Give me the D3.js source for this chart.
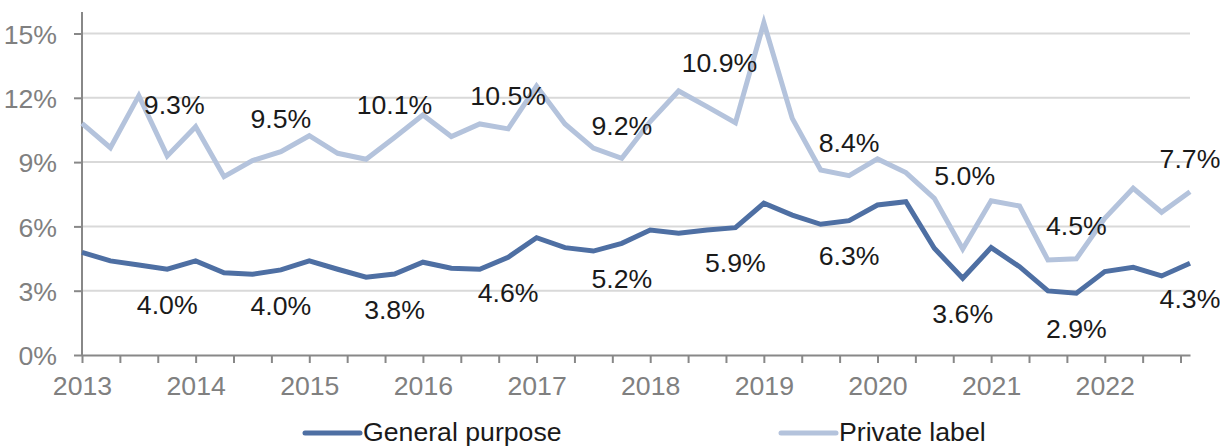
<!DOCTYPE html>
<html>
<head>
<meta charset="utf-8">
<script src="https://cdn.jsdelivr.net/npm/d3@7"></script>
<style>
  body { margin: 0; background: #fff; }
  svg text { font-family: "Liberation Sans", Arial, sans-serif; }
</style>
</head>
<body>
<div id="chart"></div>
<script>

// quarterly, 2013 Q1 .. 2022 Q4
const startYear = 2013;
const generalPurpose = [
    4.79, 4.39, 4.20, 4.00, 4.39, 3.84, 3.77, 3.97, 4.39, 4.00,
    3.63, 3.78, 4.33, 4.05, 4.00, 4.56, 5.47, 5.01, 4.85, 5.21,
    5.83, 5.68, 5.83, 5.94, 7.08, 6.53, 6.10, 6.27, 7.00, 7.15,
    4.98, 3.58, 5.01, 4.12, 2.99, 2.88, 3.89, 4.09, 3.69, 4.28
];
const privateLabel = [
    10.81, 9.67, 12.10, 9.29, 10.65, 8.32, 9.07, 9.49, 10.23, 9.41,
    9.13, 10.15, 11.20, 10.19, 10.78, 10.55, 12.55, 10.78, 9.65, 9.18,
    10.89, 12.32, 11.59, 10.84, 15.50, 11.04, 8.63, 8.37, 9.15, 8.51,
    7.31, 4.95, 7.20, 6.95, 4.43, 4.49, 6.38, 7.78, 6.66, 7.62
];

// annual figures shown as labels (at each year's Q4)
const years = [2013, 2014, 2015, 2016, 2017, 2018, 2019, 2020, 2021, 2022];
const generalAnnual = ['4.0%', '4.0%', '3.8%', '4.6%', '5.2%', '5.9%', '6.3%', '3.6%', '2.9%', '4.3%'];
const privateAnnual = ['9.3%', '9.5%', '10.1%', '10.5%', '9.2%', '10.9%', '8.4%', '5.0%', '4.5%', '7.7%'];

const yTicks = [0, 3, 6, 9, 12, 15];
const seriesNames = ['General purpose', 'Private label'];

const width = 1220, height = 446;
const darkBlue = '#4e6fa3', lightBlue = '#b4c3dc';
const fs = 26.67;

const svg = d3.select('#chart')
    .append('svg')
    .attr('width', width)
    .attr('height', height);

const x = d3.scaleLinear()
    .domain([startYear, startYear + 9.75])
    .range([82, 1190]);

const y = d3.scaleLinear()
    .domain([0, 15])
    .range([355, 33.5]);

// gridlines
svg.append('g')
    .selectAll('line')
    .data(yTicks.filter(d => d > 0))
    .join('line')
    .attr('x1', x.range()[0])
    .attr('x2', x.range()[1])
    .attr('y1', d => y(d))
    .attr('y2', d => y(d))
    .attr('stroke', '#d9d9d9')
    .attr('stroke-width', 2);

// y axis
const yAxis = svg.append('g')
    .attr('transform', `translate(${x.range()[0]},0)`)
    .call(d3.axisLeft(y).tickValues(yTicks).tickFormat(d => d + '%').tickSize(8).tickSizeOuter(0))
yAxis.select('.domain').remove();
yAxis.append('line')
    .attr('y1', 12).attr('y2', y(0))
    .attr('stroke', '#888').attr('stroke-width', 2);
yAxis.selectAll('.tick line').attr('stroke', '#888').attr('stroke-width', 2);
yAxis.selectAll('.tick text')
    .attr('fill', '#808080')
    .attr('font-size', fs)
    .attr('x', -25)
    .attr('dy', '0.36em');

// x axis: ticks every 4 months, labels at years
const xTickVals = d3.range(0, 30).map(k => startYear + k / 3);
const xAxis = svg.append('g')
    .attr('transform', `translate(0,${y(0)})`)
    .call(d3.axisBottom(x)
        .tickValues(xTickVals)
        .tickFormat(d => Math.abs(d - Math.round(d)) < 1e-6 ? d3.format('d')(Math.round(d)) : '')
        .tickSize(8)
        .tickSizeOuter(0));
xAxis.select('.domain').attr('stroke', '#888').attr('stroke-width', 2);
xAxis.selectAll('.tick line').attr('stroke', '#888').attr('stroke-width', 2);
xAxis.selectAll('.tick text')
    .attr('fill', '#808080')
    .attr('font-size', fs)
    .attr('y', 21)
    .attr('dy', '0.71em');

const line = d3.line()
    .x((d, i) => x(startYear + i / 4))
    .y(d => y(d));

svg.append('path')
    .datum(privateLabel)
    .attr('fill', 'none')
    .attr('stroke', lightBlue)
    .attr('stroke-width', 5)
    .attr('d', line);

svg.append('path')
    .datum(generalPurpose)
    .attr('fill', 'none')
    .attr('stroke', darkBlue)
    .attr('stroke-width', 5)
    .attr('d', line);

// data labels (some nudged to avoid the line, as in the original)
const privNudge = { 0: [7, -18], 5: [-16, -27], 7: [2, -41] };

svg.append('g')
    .selectAll('text')
    .data(privateAnnual)
    .join('text')
    .attr('x', (d, i) => x(years[i] + 0.75) + (privNudge[i] ? privNudge[i][0] : 0))
    .attr('y', (d, i) => y(privateLabel[i * 4 + 3]) - 33 + (privNudge[i] ? privNudge[i][1] : 0))
    .attr('dy', '0.36em')
    .attr('text-anchor', 'middle')
    .attr('font-size', fs)
    .attr('fill', '#1a1a1a')
    .text(d => d);

svg.append('g')
    .selectAll('text')
    .data(generalAnnual)
    .join('text')
    .attr('x', (d, i) => x(years[i] + 0.75))
    .attr('y', (d, i) => y(generalPurpose[i * 4 + 3]) + 35)
    .attr('dy', '0.36em')
    .attr('text-anchor', 'middle')
    .attr('font-size', fs)
    .attr('fill', '#1a1a1a')
    .text(d => d);

// legend (bottom edge clips descenders, same as the original)
const legend = svg.append('g')
    .selectAll('g')
    .data(seriesNames)
    .join('g')
    .attr('transform', (d, i) => `translate(${[305, 781][i]},433)`);

legend.append('line')
    .attr('x1', 0).attr('x2', 55)
    .attr('stroke', (d, i) => [darkBlue, lightBlue][i])
    .attr('stroke-width', 5)
    .attr('stroke-linecap', 'round');

legend.append('text')
    .attr('x', 58)
    .attr('y', -1.5)
    .attr('dy', '0.36em')
    .attr('font-size', fs)
    .attr('fill', '#1a1a1a')
    .text(d => d);

</script>
</body>
</html>
